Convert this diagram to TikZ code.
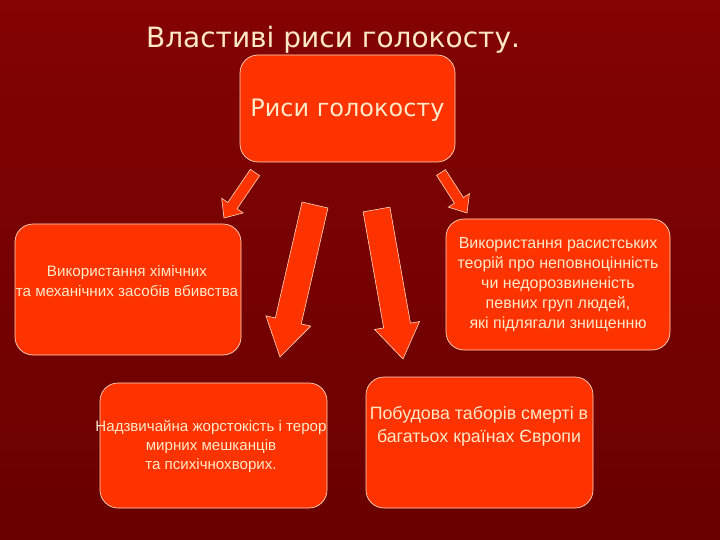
\documentclass[tikz,border=0pt]{standalone}
\usepackage{fontspec}
\setmainfont{DejaVu Sans}
\newfontfamily\boxfont{Liberation Sans}
\usetikzlibrary{calc}
\definecolor{bgtop}{HTML}{840303}
\definecolor{bgbot}{HTML}{690000}
\definecolor{boxfill}{HTML}{FF3300}
\definecolor{boxline}{HTML}{FFD8C0}
\definecolor{txt}{HTML}{FFE8C8}
\tikzset{
  rbox/.style={draw=boxline, line width=0.7pt, fill=boxfill, rounded corners=18pt, inner sep=0pt},
  boxtext/.style={text=txt, align=center, inner sep=0pt, font=\boxfont\fontsize{15.2}{19.5}\selectfont},
  barrow/.style={draw=boxline, line width=0.6pt, fill=boxfill, line join=miter},
}
% #1 tail, #2 tip, #3 half shaft, #4 half head, #5 head length
\newcommand\blockarrow[5]{%
  \coordinate (hb) at ($(#2)!#5!(#1)$);
  \draw[barrow] ($(#1)!#3!90:(#2)$) -- ($(hb)!#3!90:(#2)$) -- ($(hb)!#4!90:(#2)$) -- (#2)
    -- ($(hb)!#4!-90:(#2)$) -- ($(hb)!#3!-90:(#2)$) -- ($(#1)!#3!-90:(#2)$) -- cycle;
}
\begin{document}
\begin{tikzpicture}[x=1pt,y=-1pt]
\useasboundingbox (0,0) rectangle (720,540);
\shade[top color=bgtop, bottom color=bgbot] (0,0) rectangle (720,540);

\node[text=txt, font=\fontsize{28}{32}\selectfont, anchor=base] (title) at (333,48) {Властиві риси голокосту.};

\node[rbox, minimum width=215pt, minimum height=107pt] (center) at (347.5,108.5) {};
\node[text=txt, font=\fontsize{24}{30}\selectfont, inner sep=0pt] (ctext) at (347.5,110) {Риси голокосту};

\node[rbox, minimum width=226pt, minimum height=131pt] (lbox) at (128,289.5) {};
\node[boxtext] (ltext) at (127,281) {Використання хімічних\\та механічних засобів вбивства};

\node[rbox, minimum width=224pt, minimum height=131pt] (rbox) at (558,284.5) {};
\node[boxtext, font=\boxfont\fontsize{16}{20}\selectfont] (rtext) at (558,285) {Використання расистських\\теорій про неповноцінність\\чи недорозвиненість\\певних груп людей,\\які підлягали знищенню};

\node[rbox, minimum width=227pt, minimum height=125pt] (blbox) at (213.5,445.5) {};
\node[boxtext, font=\boxfont\fontsize{15.1}{19}\selectfont] (bltext) at (211,446) {Надзвичайна жорстокість і терор\\мирних мешканців\\та психічнохворих.};

\node[rbox, minimum width=227pt, minimum height=131pt] (brbox) at (479.5,442.5) {};
\node[boxtext, font=\boxfont\fontsize{17.8}{23}\selectfont] (brtext) at (479,426) {Побудова таборів смерті в\\багатьох країнах Європи};

\coordinate (a1t) at (255,172.5); \coordinate (a1h) at (224,218);
\coordinate (a2t) at (315,205);   \coordinate (a2h) at (280,357);
\coordinate (a3t) at (376.5,209.5); \coordinate (a3h) at (403,359);
\coordinate (a4t) at (441,172.5); \coordinate (a4h) at (467,213);
\blockarrow{a1t}{a1h}{5.6pt}{13pt}{15pt}
\blockarrow{a2t}{a2h}{13.3pt}{23pt}{37pt}
\blockarrow{a3t}{a3h}{13.6pt}{22.8pt}{34pt}
\blockarrow{a4t}{a4h}{5.3pt}{12.5pt}{15pt}
\end{tikzpicture}
\end{document}
